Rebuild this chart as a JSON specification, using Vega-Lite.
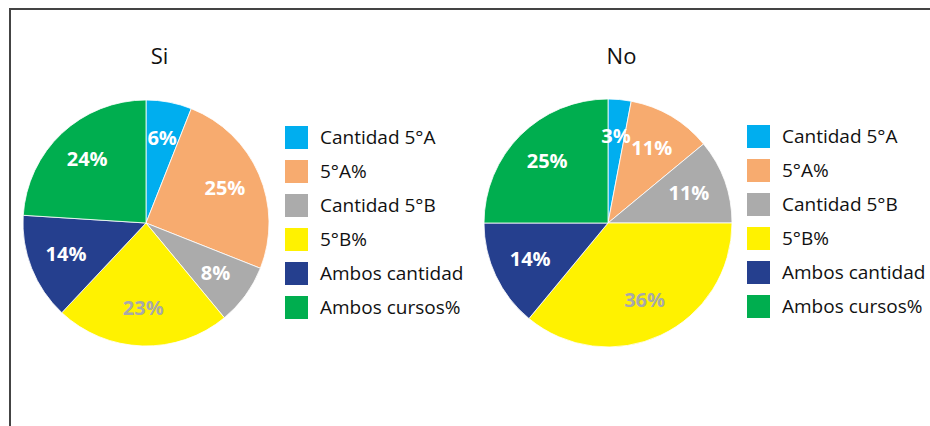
{
  "$schema": "https://vega.github.io/schema/vega-lite/v6.json",
  "width": 940,
  "height": 428,
  "autosize": "none",
  "padding": {"left": 10, "top": 9, "right": 0, "bottom": 0},
  "background": "white",
  "config": {
    "font": "Open Sans",
    "view": {"stroke": "#444", "strokeWidth": 2}
  },
  "data": {
    "values": [
      {"grupo": "Si", "categoria": "Cantidad 5°A", "orden": 1, "porcentaje": 0.06},
      {"grupo": "Si", "categoria": "5°A%", "orden": 2, "porcentaje": 0.25},
      {"grupo": "Si", "categoria": "Cantidad 5°B", "orden": 3, "porcentaje": 0.08},
      {"grupo": "Si", "categoria": "5°B%", "orden": 4, "porcentaje": 0.23},
      {"grupo": "Si", "categoria": "Ambos cantidad", "orden": 5, "porcentaje": 0.14},
      {"grupo": "Si", "categoria": "Ambos cursos%", "orden": 6, "porcentaje": 0.24},
      {"grupo": "No", "categoria": "Cantidad 5°A", "orden": 1, "porcentaje": 0.03},
      {"grupo": "No", "categoria": "5°A%", "orden": 2, "porcentaje": 0.11},
      {"grupo": "No", "categoria": "Cantidad 5°B", "orden": 3, "porcentaje": 0.11},
      {"grupo": "No", "categoria": "5°B%", "orden": 4, "porcentaje": 0.36},
      {"grupo": "No", "categoria": "Ambos cantidad", "orden": 5, "porcentaje": 0.14},
      {"grupo": "No", "categoria": "Ambos cursos%", "orden": 6, "porcentaje": 0.25}
    ]
  },
  "transform": [
    {"stack": "porcentaje", "groupby": ["grupo"], "sort": [{"field": "orden", "order": "ascending"}], "offset": "normalize", "as": ["t0", "t1"]},
    {"calculate": "(datum.t0 + datum.t1) / 2", "as": "tmid"}
  ],
  "encoding": {
    "x": {
      "field": "grupo",
      "type": "nominal",
      "scale": {"type": "point", "domain": ["Si", "No"], "range": [136, 598], "padding": 0},
      "axis": {
        "orient": "top",
        "title": null,
        "domain": false,
        "ticks": false,
        "tickSize": 0,
        "grid": false,
        "labelPadding": 0,
        "offset": -54,
        "labelBaseline": "alphabetic",
        "labelFontSize": 22,
        "labelColor": "#111",
        "labelFont": "Open Sans",
        "labelOffset": 13,
        "labelAngle": 0
      }
    }
  },
  "layer": [
    {
      "transform": [{"filter": "datum.grupo === 'Si'"}],
      "mark": {"type": "arc", "outerRadius": 123, "stroke": "white", "strokeWidth": 0.8},
      "encoding": {
        "theta": {"field": "t0", "type": "quantitative", "scale": {"domain": [0, 1]}},
        "theta2": {"field": "t1"},
        "color": {
          "field": "categoria",
          "type": "nominal",
          "scale": {
            "domain": ["Cantidad 5°A", "5°A%", "Cantidad 5°B", "5°B%", "Ambos cantidad", "Ambos cursos%"],
            "range": ["#00AEEF", "#F7AB6F", "#ABABAB", "#FFF200", "#253F8E", "#00AE4F"]
          },
          "legend": {
            "orient": "none",
            "legendX": 275,
            "legendY": 117,
            "title": null,
            "padding": 0,
            "symbolType": "square",
            "symbolSize": 529,
            "symbolStrokeWidth": 0,
            "labelFontSize": 19,
            "labelFont": "Open Sans",
            "labelColor": "#111",
            "labelOffset": 12,
            "rowPadding": 11,
            "labelLimit": 300
          }
        }
      }
    },
    {
      "transform": [{"filter": "datum.grupo === 'No'"}],
      "mark": {"type": "arc", "outerRadius": 124, "stroke": "white", "strokeWidth": 0.8},
      "encoding": {
        "theta": {"field": "t0", "type": "quantitative", "scale": {"domain": [0, 1]}},
        "theta2": {"field": "t1"},
        "color": {
          "field": "categoria",
          "type": "nominal",
          "scale": {
            "domain": ["Cantidad 5°A", "5°A%", "Cantidad 5°B", "5°B%", "Ambos cantidad", "Ambos cursos%"],
            "range": ["#00AEEF", "#F7AB6F", "#ABABAB", "#FFF200", "#253F8E", "#00AE4F"]
          },
          "legend": {
            "orient": "none",
            "legendX": 737,
            "legendY": 116,
            "title": null,
            "padding": 0,
            "symbolType": "square",
            "symbolSize": 529,
            "symbolStrokeWidth": 0,
            "labelFontSize": 19,
            "labelFont": "Open Sans",
            "labelColor": "#111",
            "labelOffset": 12,
            "rowPadding": 11,
            "labelLimit": 300
          }
        }
      }
    },
    {
      "mark": {"type": "text", "radius": 86, "fontSize": 20, "fontWeight": "bold", "font": "Open Sans", "align": "center", "baseline": "middle"},
      "encoding": {
        "theta": {"field": "tmid", "type": "quantitative", "scale": {"domain": [0, 1]}},
        "text": {"field": "porcentaje", "type": "quantitative", "format": ".0%"},
        "color": {
          "condition": {"test": "datum.categoria === '5°B%'", "value": "#A9A9A9"},
          "value": "white"
        }
      }
    }
  ],
  "resolve": {"scale": {"color": "independent"}, "legend": {"color": "independent"}}
}
